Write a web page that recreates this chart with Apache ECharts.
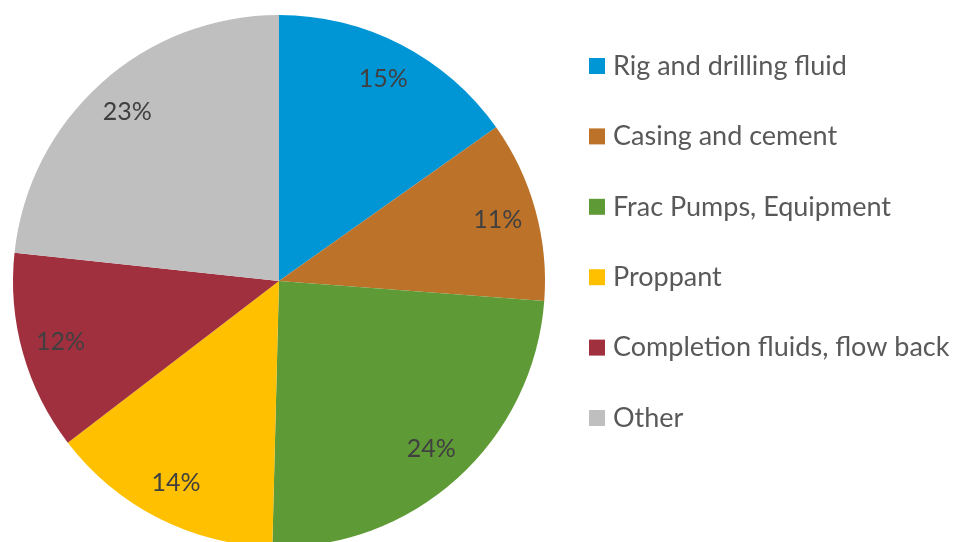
<!DOCTYPE html>
<html>
<head>
<meta charset="utf-8">
<script src="https://cdn.jsdelivr.net/npm/echarts@6/dist/echarts.min.js"></script>
<style>
  html, body { margin: 0; padding: 0; background: #fff; }
  #chart { width: 954px; height: 542px; }
</style>
</head>
<body>
<div id="chart"></div>
<script>
var categories = ["Rig and drilling fluid", "Casing and cement", "Frac Pumps, Equipment",
  "Proppant", "Completion fluids, flow back", "Other"];
var shares = [15.2, 11.0, 24.2, 14.2, 12.1, 23.3];
var colors = ["#0096D6", "#BD7229", "#5E9A35", "#FFC000", "#A1303F", "#BFBFBF"];

var pieData = categories.map(function (name, i) {
  return { name: name, value: shares[i], itemStyle: { color: colors[i] } };
});

var chart = echarts.init(document.getElementById("chart"));
var option = {
  animation: false,
  legend: {
    orient: "vertical",
    left: 589,
    top: 51,
    padding: 0,
    itemWidth: 16,
    itemHeight: 16,
    itemGap: 40.4,
    icon: "rect",
    textStyle: { fontFamily: "Lato", fontSize: 27, color: "#595959", lineHeight: 30, padding: [0, 0, 0, 3] },
    data: categories
  },
  series: [
    {
      // filled pie
      type: "pie",
      center: [279, 281],
      radius: [0, 266],
      startAngle: 90,
      clockwise: true,
      label: { show: false },
      labelLine: { show: false },
      silent: true,
      data: pieData
    },
    {
      // transparent ring carrying the percent labels at ~0.85 r
      type: "pie",
      center: [279, 281],
      radius: [182, 266],
      startAngle: 90,
      clockwise: true,
      silent: true,
      itemStyle: { color: "rgba(0,0,0,0)" },
      label: {
        show: true,
        position: "inside",
        fontFamily: "Lato",
        fontSize: 25,
        color: "#404040",
        formatter: function (p) { return Math.round(p.value) + "%"; }
      },
      labelLine: { show: false },
      legendHoverLink: false,
      data: categories.map(function (name, i) {
        return { name: name + " ", value: shares[i] };
      })
    }
  ]
};
chart.setOption(option);
</script>
</body>
</html>
